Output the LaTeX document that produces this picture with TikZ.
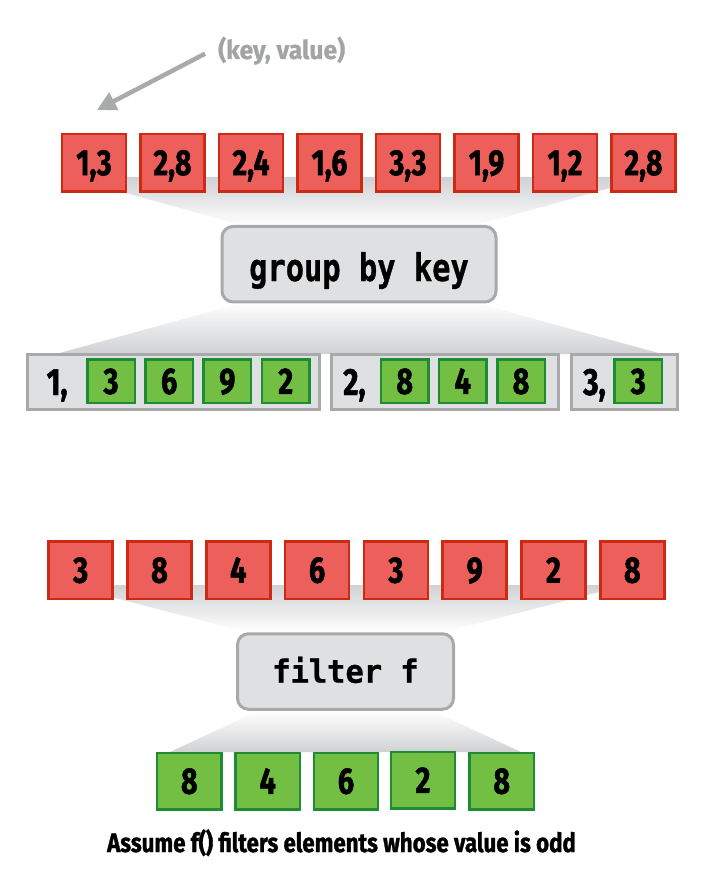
\documentclass[tikz,border=0pt]{standalone}
\usepackage{fontspec}
\usetikzlibrary{arrows.meta}
\newfontfamily\condf[FakeStretch=0.78, BoldFeatures={FakeBold=1.3}]{Fira Sans}
\newfontfamily\condg[FakeStretch=0.84, BoldFeatures={FakeBold=1.2}]{Fira Sans}
\newfontfamily\condk[FakeStretch=0.95, BoldFeatures={FakeBold=0.8}]{Fira Sans}
\newfontfamily\monoa[FakeStretch=0.8, BoldFeatures={FakeBold=0.8}]{DejaVu Sans Mono}
\newfontfamily\monob[FakeStretch=0.95, BoldFeatures={FakeBold=0.8}]{DejaVu Sans Mono}
\definecolor{redf}{HTML}{EC5F5B}
\definecolor{redb}{HTML}{CC2A12}
\definecolor{greenf}{HTML}{72BF44}
\definecolor{greenb}{HTML}{1E8C35}
\definecolor{boxf}{HTML}{DFE0E2}
\definecolor{boxb}{HTML}{A8A9AA}
\definecolor{fun}{HTML}{D0D1D4}
\definecolor{arrowg}{HTML}{A9ABAB}
\definecolor{kvtext}{HTML}{A3A5A5}
\begin{document}
\begin{tikzpicture}[x=1pt,y=-1pt,
  numfont/.style={font=\condf\bfseries\fontsize{#1}{#1}\selectfont},
  redbox/.style={draw=redb, fill=redf, line width=2.5pt, minimum width=64pt,
    minimum height=57.5pt, inner sep=0pt, numfont=36.5, text height=25pt, text depth=0pt},
  redbox2/.style={redbox, numfont=37, text height=25.5pt},
  greenbig/.style={draw=greenb, fill=greenf, line width=2.5pt, minimum width=64.2pt,
    minimum height=56.5pt, inner sep=0pt, numfont=37, text height=25.5pt, text depth=0pt},
  greensmall/.style={greenbig, minimum width=47.5pt, minimum height=43.5pt},
  groupbox/.style={draw=boxb, fill=boxf, line width=3pt, minimum height=55pt, inner sep=0pt},
  procbox/.style={draw=boxb, fill=boxf, line width=3pt, rounded corners=11pt, inner sep=0pt},
  grouplabel/.style={numfont=38, anchor=base west, inner sep=0pt},
  kvarrow/.style={draw=arrowg, line width=4.5pt, -{Triangle[length=19pt,width=19pt]}}
]
\useasboundingbox (0,0) rectangle (712,882);
\fill[white] (0,0) rectangle (712,882);

% funnels
\shade[top color=fun, bottom color=white] (68,177) -- (650,177) -- (473,226) -- (245,226) -- cycle;
\shade[top color=white, bottom color=fun] (245,302) -- (473,302) -- (662,354) -- (56,354) -- cycle;
\shade[top color=fun, bottom color=white] (65,585) -- (626,585) -- (445,632) -- (246,632) -- cycle;
\shade[top color=white, bottom color=fun] (258,711) -- (433,711) -- (521,752) -- (170,752) -- cycle;

% label and arrow
\node[font=\condk\bfseries\fontsize{26}{26}\selectfont, text=kvtext, anchor=base west, inner sep=0pt] (kv) at (218,59) {(key, value)};
\coordinate (kvtip) at (97,110);
\draw[kvarrow] ([xshift=-13pt,yshift=-3pt]kv.west) -- (kvtip);

% row 1
\node[redbox] (r1a) at (94,162.7) {1,3};
\node[redbox] (r1b) at (172.5,162.7) {2,8};
\node[redbox] (r1c) at (251,162.7) {2,4};
\node[redbox] (r1d) at (329.5,162.7) {1,6};
\node[redbox] (r1e) at (408,162.7) {3,3};
\node[redbox] (r1f) at (486.5,162.7) {1,9};
\node[redbox] (r1g) at (565,162.7) {1,2};
\node[redbox] (r1h) at (643.5,162.7) {2,8};

% group by key
\node[procbox, minimum width=274pt, minimum height=75.5pt,
  font=\monoa\bfseries\fontsize{38}{38}\selectfont, text height=33.6pt, text depth=0pt]
  (gbk) at (359,264.2) {group by key};

% groups
\node[groupbox, minimum width=291.7pt] (g1) at (173.35,382) {};
\node[groupbox, minimum width=227pt] (g2) at (445,382) {};
\node[groupbox, minimum width=106.3pt] (g3) at (624.65,382) {};
\node[grouplabel] (l1) at (46.5,395) {1,};
\node[grouplabel] (l2) at (343,395) {2,};
\node[grouplabel] (l3) at (583,395) {3,};
\node[greensmall] (g1a) at (111,381.2) {3};
\node[greensmall] (g1b) at (169.2,381.2) {6};
\node[greensmall] (g1c) at (227.3,381.2) {9};
\node[greensmall] (g1d) at (285.7,381.2) {2};
\node[greensmall] (g2a) at (404.7,381.2) {8};
\node[greensmall] (g2b) at (462.7,381.2) {4};
\node[greensmall] (g2c) at (521,381.2) {8};
\node[greensmall] (g3a) at (638.3,381.2) {3};

% row 2
\node[redbox2] (r2a) at (80.7,570) {3};
\node[redbox2] (r2b) at (159.5,570) {8};
\node[redbox2] (r2c) at (238.3,570) {4};
\node[redbox2] (r2d) at (317.1,570) {6};
\node[redbox2] (r2e) at (395.9,570) {3};
\node[redbox2] (r2f) at (474.7,570) {9};
\node[redbox2] (r2g) at (553.5,570) {2};
\node[redbox2] (r2h) at (632.3,570) {8};

% filter
\node[procbox, minimum width=216pt, minimum height=75.5pt,
  font=\monob\bfseries\fontsize{32}{32}\selectfont, text height=22.4pt, text depth=0pt]
  (flt) at (345.5,671.5) {filter f};

% row 3
\node[greenbig] (r3a) at (189.3,781) {8};
\node[greenbig] (r3b) at (267.7,781) {4};
\node[greenbig] (r3c) at (346,781) {6};
\node[greenbig] (r3d) at (423,780) {2};
\node[greenbig] (r3e) at (501.7,781) {8};

% caption
\node[font=\condg\bfseries\fontsize{26.5}{26.5}\selectfont, anchor=base, inner sep=0pt] (cap) at (341.5,852) {Assume f() filters elements whose value is odd};
\end{tikzpicture}
\end{document}
